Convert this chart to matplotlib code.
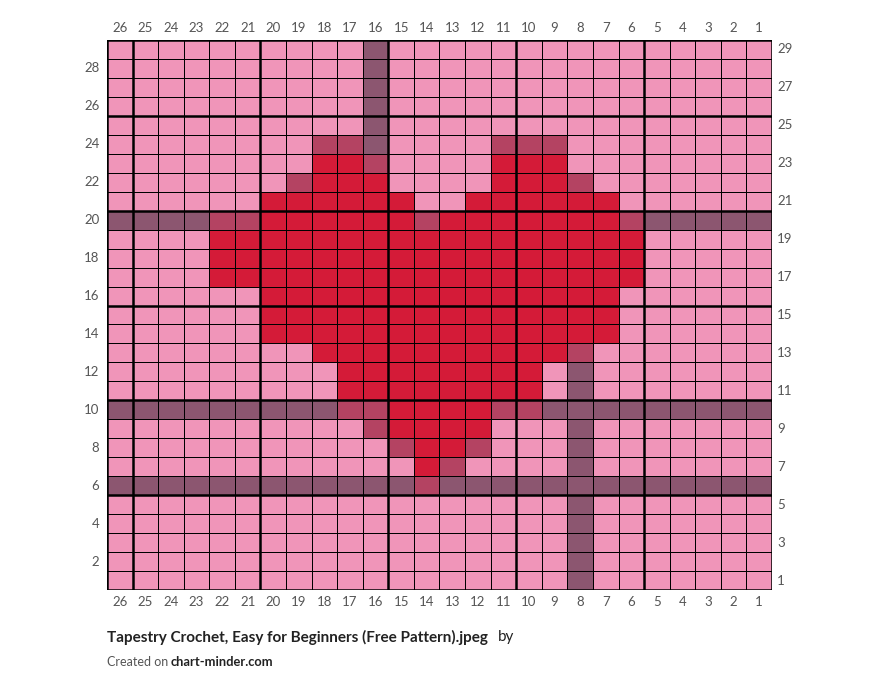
import matplotlib
matplotlib.use("Agg")
import matplotlib.pyplot as plt
from matplotlib.colors import ListedColormap
import numpy as np

# Column labels left to right, rows top (29) to bottom (1)
col_labels = list(range(26, 0, -1))
row_labels = list(range(29, 0, -1))
# P pink, M mauve, R red, D dark red
rows = [
    "PPPPPPPPPPMPPPPPPPPPPPPPPP",  # 29
    "PPPPPPPPPPMPPPPPPPPPPPPPPP",  # 28
    "PPPPPPPPPPMPPPPPPPPPPPPPPP",  # 27
    "PPPPPPPPPPMPPPPPPPPPPPPPPP",  # 26
    "PPPPPPPPPPMPPPPPPPPPPPPPPP",  # 25
    "PPPPPPPPDDMPPPPDDDPPPPPPPP",  # 24
    "PPPPPPPPRRDPPPPRRRPPPPPPPP",  # 23
    "PPPPPPPDRRRPPPPRRRDPPPPPPP",  # 22
    "PPPPPPRRRRRRPPRRRRRRPPPPPP",  # 21
    "MMMMDDRRRRRRDRRRRRRRDMMMMM",  # 20
    "PPPPRRRRRRRRRRRRRRRRRPPPPP",  # 19
    "PPPPRRRRRRRRRRRRRRRRRPPPPP",  # 18
    "PPPPRRRRRRRRRRRRRRRRRPPPPP",  # 17
    "PPPPPPRRRRRRRRRRRRRRPPPPPP",  # 16
    "PPPPPPRRRRRRRRRRRRRRPPPPPP",  # 15
    "PPPPPPRRRRRRRRRRRRRRPPPPPP",  # 14
    "PPPPPPPPRRRRRRRRRRDPPPPPPP",  # 13
    "PPPPPPPPPRRRRRRRRPMPPPPPPP",  # 12
    "PPPPPPPPPRRRRRRRRPMPPPPPPP",  # 11
    "MMMMMMMMMDDRRRRDDMMMMMMMMM",  # 10
    "PPPPPPPPPPDRRRRPPPMPPPPPPP",  # 9
    "PPPPPPPPPPPDRRDPPPMPPPPPPP",  # 8
    "PPPPPPPPPPPPRDPPPPMPPPPPPP",  # 7
    "MMMMMMMMMMMMDMMMMMMMMMMMMM",  # 6
    "PPPPPPPPPPPPPPPPPPMPPPPPPP",  # 5
    "PPPPPPPPPPPPPPPPPPMPPPPPPP",  # 4
    "PPPPPPPPPPPPPPPPPPMPPPPPPP",  # 3
    "PPPPPPPPPPPPPPPPPPMPPPPPPP",  # 2
    "PPPPPPPPPPPPPPPPPPMPPPPPPP",  # 1
]
codes = "PMRD"
colors = ["#F095B9", "#8C5670", "#D41B38", "#B44362"]

grid = np.array([[codes.index(ch) for ch in r] for r in rows])
ncol = len(col_labels)
nrow = len(row_labels)

fig = plt.figure(figsize=(8.78, 6.94), dpi=100)
ax = fig.add_axes([107/878, (694-590)/694, 665/878, 550/694])
ax.pcolormesh(np.arange(ncol+1), np.arange(nrow+1), grid,
              cmap=ListedColormap(colors), vmin=-0.5, vmax=3.5,
              edgecolors="black", linewidth=0.7)
ax.set_xlim(0, ncol)
ax.set_ylim(nrow, 0)
for c in range(ncol+1):
    if (ncol - c) % 5 == 0 or c == 0:
        ax.axvline(c, color="black", lw=1.8)
for r in range(nrow+1):
    if (nrow - r) % 5 == 0 or r == 0:
        ax.axhline(r, color="black", lw=1.8)

tc = "#555555"
ax.set_xticks(np.arange(ncol) + 0.5)
ax.set_xticklabels([str(c) for c in col_labels], fontsize=9.5, color=tc, family="Lato")
ax.tick_params(axis="x", which="both", top=True, labeltop=True, bottom=True, labelbottom=True, length=0, pad=4)
ax.set_yticks([])
for i, r in enumerate(row_labels):
    y = i + 0.5
    if r % 2 == 0:
        ax.text(-0.3, y, str(r), ha="right", va="center", fontsize=9.5, color=tc, family="Lato")
    else:
        ax.text(ncol + 0.2, y, str(r), ha="left", va="center", fontsize=9.5, color=tc, family="Lato")
for s in ax.spines.values():
    s.set_visible(False)

fig.text(107/878, 1 - 637/694, "Tapestry Crochet, Easy for Beginners (Free Pattern).jpeg", fontsize=11,
         fontweight="bold", color="#222222", family="Lato", va="center")
fig.text(498/878, 1 - 637/694, "by", fontsize=11, color="#222222", family="Lato", va="center")
fig.text(107/878, 1 - 662/694, "Created on", fontsize=9, color="#555555", family="Lato", va="center")
fig.text(171/878, 1 - 662/694, "chart-minder.com", fontsize=9.3, fontweight="bold", color="#222222",
         family="Lato", va="center")
fig.savefig("out.png", dpi=100, facecolor="white")
